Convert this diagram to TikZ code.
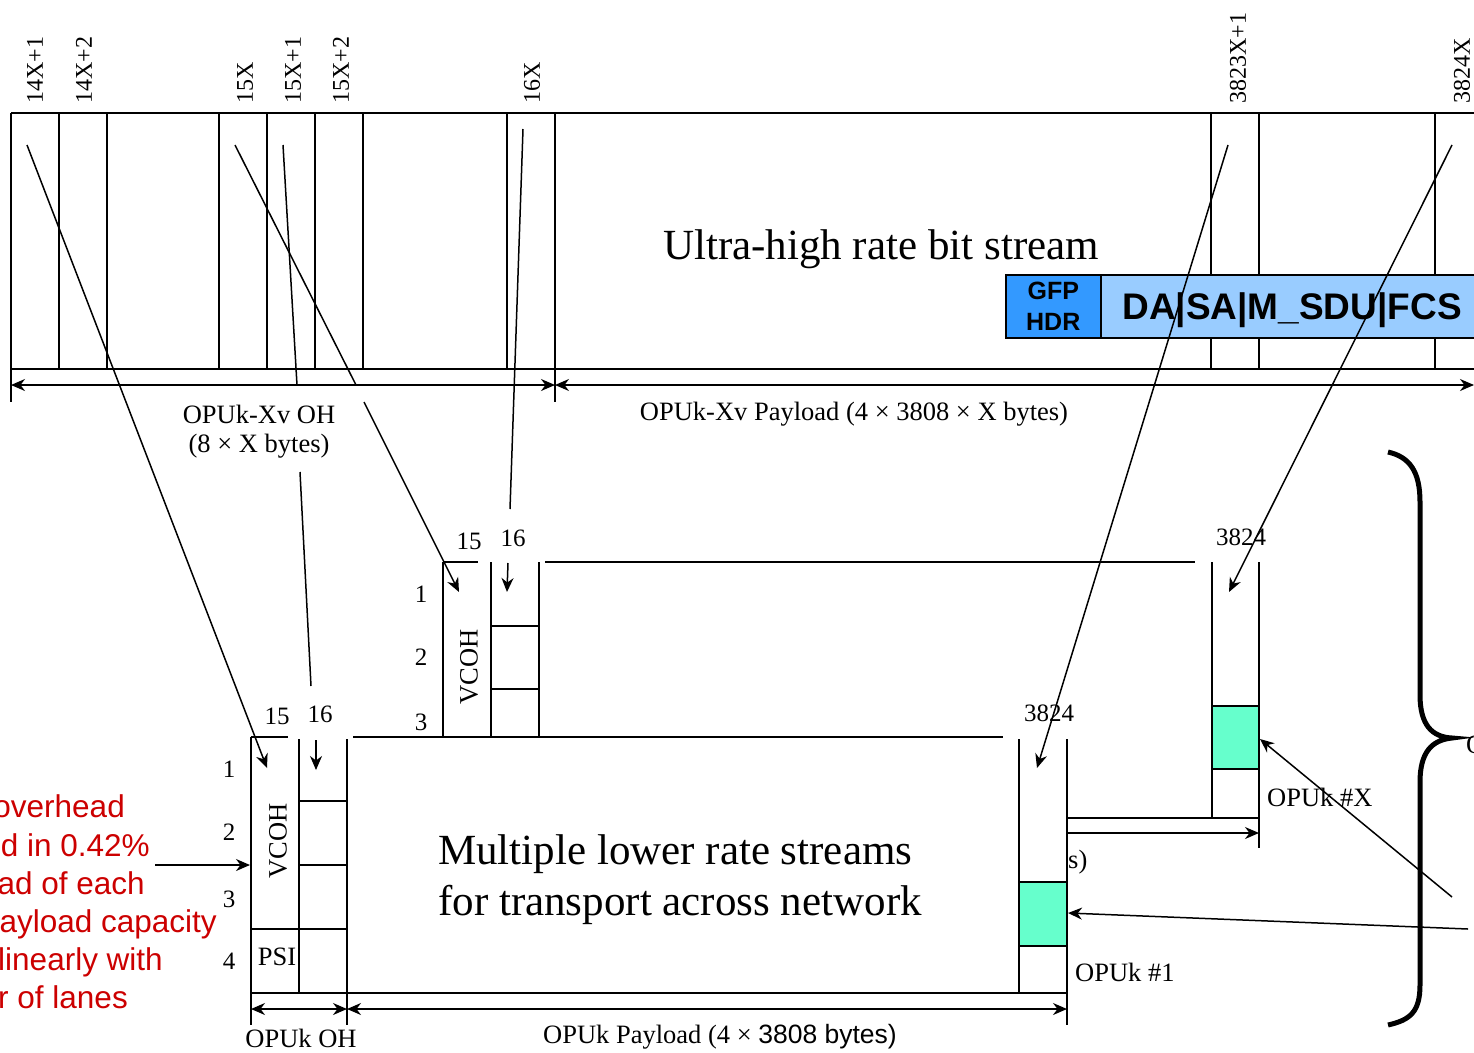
\documentclass[tikz,border=0pt]{standalone}
\usepackage{fontspec}
\setmainfont{Liberation Serif}
\setsansfont{Liberation Sans}
\usetikzlibrary{arrows.meta}
\definecolor{gfpdark}{RGB}{51,153,255}
\definecolor{gfplight}{RGB}{153,204,255}
\definecolor{cellgreen}{RGB}{102,255,204}
\definecolor{notered}{RGB}{204,0,0}
\begin{document}
\begin{tikzpicture}[x=1pt,y=-1pt,
  >={Stealth[length=14pt,width=12pt,inset=4.5pt]},
  ln/.style={line width=1.5pt},
  arr/.style={ln,->},
  dimln/.style={ln,<->},
  lbl/.style={font=\fontsize{26.5}{30}\selectfont, inner sep=0pt},
  num/.style={font=\fontsize{25}{29}\selectfont, inner sep=0pt},
  collbl/.style={font=\fontsize{24}{28}\selectfont, rotate=90, anchor=west, inner sep=0pt},
  bigtxt/.style={font=\fontsize{43}{48}\selectfont, inner sep=0pt},
  redtxt/.style={font=\sffamily\fontsize{31.5}{36}\selectfont, text=notered, inner sep=0pt, anchor=base east},
  cell/.style={ln, fill=cellgreen},
  gfpbox/.style={draw, line width=1.5pt, inner sep=0pt, anchor=north west, font=\sffamily\bfseries, align=center}
]
\useasboundingbox (0,0) rectangle (1474,1052);
\clip (0,0) rectangle (1474,1052);

% ---------- top frame ----------
\draw[ln] (11,113) -- (1480,113);
\draw[ln] (11,369) -- (1480,369);
\draw[ln] (11,113) -- (11,402);
\draw[ln] (555,113) -- (555,402);
\foreach \x in {59,107,219,267,315,363,507,1211,1259,1435}
  \draw[ln] (\x,113) -- (\x,369);

% column labels
\node[collbl] (c1) at (35,104) {14X+1};
\node[collbl] (c2) at (84,104) {14X+2};
\node[collbl] (c3) at (245,104) {15X};
\node[collbl] (c4) at (293,104) {15X+1};
\node[collbl] (c5) at (341,104) {15X+2};
\node[collbl] (c6) at (532,104) {16X};
\node[collbl] (c7) at (1238,104) {3823X+1};
\node[collbl] (c8) at (1462,104) {3824X};

\node[bigtxt, anchor=base] (ultra) at (881,259) {Ultra-high rate bit stream};

\node[gfpbox, fill=gfpdark, minimum width=95pt, minimum height=63pt,
      font=\sffamily\bfseries\fontsize{25}{31}\selectfont] (gfp) at (1005,274) {GFP\\HDR};
\node[gfpbox, fill=gfplight, minimum width=380pt, minimum height=63pt] (sdu) at (1100,274) {};
\node[font=\sffamily\bfseries\fontsize{37}{40}\selectfont, inner sep=0pt, anchor=base] (sdutxt) at (1292,319) {DA|SA|M\_SDU|FCS};

% top dimension lines
\coordinate (tdl) at (11,385);
\coordinate (tdm) at (555,385);
\coordinate (tdr) at (1474,385);
\draw[dimln] (tdl) -- (tdm);
\draw[dimln] (tdm) -- (tdr);
\node[lbl] (ohl1) at (259,414) {OPUk-Xv OH};
\node[lbl] (ohl2) at (259,446) {(8 × X bytes)};
\node[lbl] (pll) at (854,414) {OPUk-Xv Payload (4 × 3808 × X bytes)};

% ---------- back frame (OPUk #X) ----------
\draw[ln] (443,562) -- (478,562);
\draw[ln] (545,562) -- (1195,562);
\draw[ln] (443,562) -- (443,737);
\draw[ln] (491,562) -- (491,737);
\draw[ln] (539,562) -- (539,737);
\draw[ln] (491,626) -- (539,626);
\draw[ln] (491,689) -- (539,689);
\draw[ln] (1212,562) -- (1212,818);
\draw[ln] (1259,562) -- (1259,848);
\draw[cell] (1212,706) rectangle (1259,769);
\draw[ln] (1067,818) -- (1259,818);
\coordinate (bdl) at (1067,833);
\coordinate (bdr) at (1259,833);
\draw[arr] (bdl) -- (bdr);

\node[num] (br1) at (421,594) {1};
\node[num] (br2) at (421,657) {2};
\node[num] (br3) at (421,722) {3};
\node[num] (b15) at (469,541) {15};
\node[num] (b16) at (513,538) {16};
\node[num] (b3824) at (1241,537) {3824};
\node[lbl, rotate=90] (bvcoh) at (469,667) {VCOH};
\node[lbl, anchor=west] (opux) at (1267,797) {OPUk \#X};
\node[lbl, anchor=west] (stail) at (1068,862) {s)};

% ---------- front frame (OPUk #1) ----------
\draw[ln] (251,737) -- (288,737);
\draw[ln] (353,737) -- (1003,737);
\draw[ln] (251,737) -- (251,1025);
\draw[ln] (299,739) -- (299,993);
\draw[ln] (347,739) -- (347,1025);
\draw[ln] (299,801) -- (347,801);
\draw[ln] (299,865) -- (347,865);
\draw[ln] (251,929) -- (347,929);
\draw[ln] (251,993) -- (1067,993);
\draw[ln] (1019,739) -- (1019,993);
\draw[ln] (1067,739) -- (1067,1025);
\draw[cell] (1019,882) rectangle (1067,946);
\coordinate (fdl) at (251,1009);
\coordinate (fdm) at (347,1009);
\coordinate (fdr) at (1067,1009);
\draw[dimln] (fdl) -- (fdm);
\draw[dimln] (fdm) -- (fdr);

\node[num] (fr1) at (229,769) {1};
\node[num] (fr2) at (229,832) {2};
\node[num] (fr3) at (229,899) {3};
\node[num] (fr4) at (229,961) {4};
\node[num] (f15) at (277,716) {15};
\node[num] (f16) at (320,714) {16};
\node[num] (f3824) at (1049,713) {3824};
\node[lbl, rotate=90] (fvcoh) at (278,841) {VCOH};
\node[lbl] (psi) at (277,957) {PSI};
\node[lbl, anchor=west] (opu1) at (1075,972) {OPUk \#1};
\node[lbl] (fohl) at (301,1038) {OPUk OH};
\node[lbl] (fpll) at (720,1037) {OPUk Payload (4 × {\sffamily 3808 bytes)}};

\node[bigtxt, anchor=base west] (mult1) at (438,864) {Multiple lower rate streams};
\node[bigtxt, anchor=base west] (mult2) at (438,915) {for transport across network};

% ---------- red note ----------
\node[redtxt] (r1) at (125,817) {overhead};
\node[redtxt] (r2) at (150,856) {d in 0.42\%};
\node[redtxt] (r3) at (145,894) {ad of each};
\node[redtxt] (r4) at (217,932) {ayload capacity};
\node[redtxt] (r5) at (163,970) {linearly with};
\node[redtxt] (r6) at (128,1008) {r of lanes};
\coordinate (rs) at (155,865);
\coordinate (re) at (250,865);
\draw[arr] (rs) -- (re);

% ---------- mapping connectors ----------
\coordinate (a1s) at (27,145);   \coordinate (a1e) at (267,768);
\draw[arr] (a1s) -- (a1e);
\coordinate (a2s) at (235,145);  \coordinate (a2m) at (356,385);
\coordinate (a2n) at (364,402);  \coordinate (a2e) at (459,592);
\draw[ln] (a2s) -- (a2m);
\draw[arr] (a2n) -- (a2e);
\coordinate (a3s) at (283,145);  \coordinate (a3m) at (297,385);
\coordinate (a3n) at (300,472);  \coordinate (a3o) at (311,686);
\coordinate (a3p) at (316,740);  \coordinate (a3e) at (316,770);
\draw[ln] (a3s) -- (a3m);
\draw[ln] (a3n) -- (a3o);
\draw[arr] (a3p) -- (a3e);
\coordinate (a4s) at (523,129);  \coordinate (a4m) at (510,509);
\coordinate (a4n) at (508,563);  \coordinate (a4e) at (507,592);
\draw[ln] (a4s) -- (a4m);
\draw[arr] (a4n) -- (a4e);
\coordinate (a5s) at (1228,145); \coordinate (a5e) at (1037,768);
\draw[arr] (a5s) -- (a5e);
\coordinate (a6s) at (1452,145); \coordinate (a6e) at (1229,592);
\draw[arr] (a6s) -- (a6e);
\coordinate (a7s) at (1452,897); \coordinate (a7e) at (1260,739);
\draw[arr] (a7s) -- (a7e);
\coordinate (a8s) at (1468,929); \coordinate (a8e) at (1068,913);
\draw[arr] (a8s) -- (a8e);

% dotted ellipsis
\coordinate (dA) at (300,672);
\coordinate (dB) at (378,611);
\draw[line width=5pt, line cap=rect, dash pattern=on 0pt off 11pt] (dA) -- (dB);

% brace
\draw[line width=5pt] (1388,452) .. controls (1410,457) and (1420,472) .. (1420,502)
  -- (1420,695) .. controls (1420,725) and (1432,737) .. (1452,738)
  .. controls (1432,740) and (1420,752) .. (1420,782)
  -- (1420,985) .. controls (1420,1012) and (1410,1020) .. (1388,1025);
\node[lbl, anchor=west] (brlbl) at (1466,745) {O};
\end{tikzpicture}
\end{document}
